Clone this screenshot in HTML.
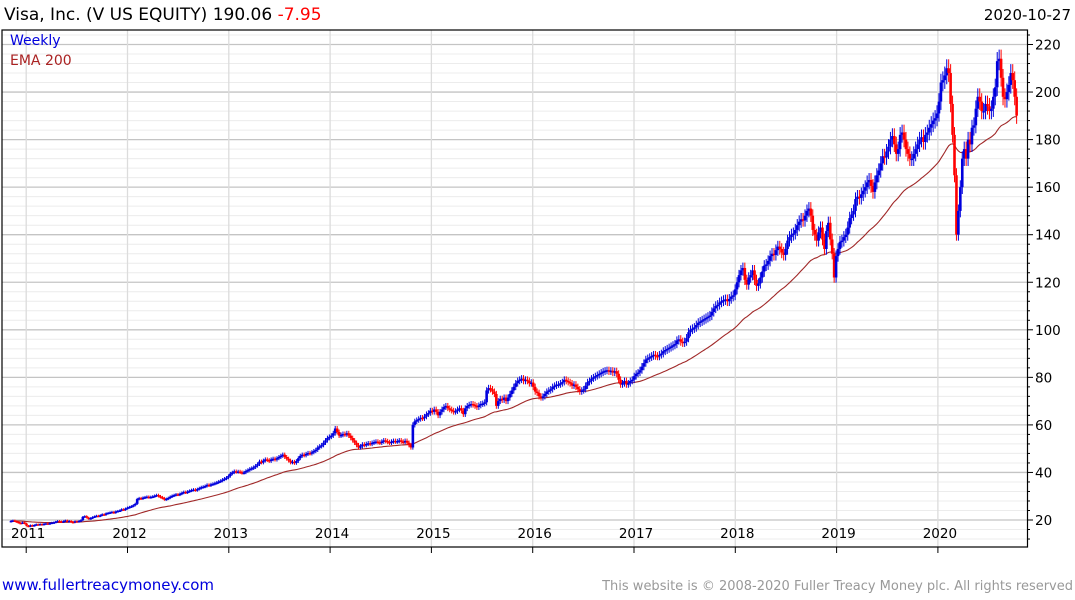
<!DOCTYPE html>
<html><head><meta charset="utf-8">
<style>
html,body{margin:0;padding:0;background:#fff;}
body{width:1075px;height:600px;overflow:hidden;font-family:"Liberation Sans","DejaVu Sans",sans-serif;}
svg{display:block;}
</style></head>
<body>
<svg id="chart" width="1075" height="600" xmlns="http://www.w3.org/2000/svg">
  <text x="4" y="20" font-size="17" font-family="DejaVu Sans, sans-serif" fill="#000">Visa, Inc. (V US EQUITY) 190.06 <tspan fill="#ff0000">-7.95</tspan></text>
  <text x="1071" y="20" font-size="15" font-family="DejaVu Sans, sans-serif" text-anchor="end" fill="#000">2020-10-27</text>
  <g id="grid"></g>
  <g id="ema"></g>
  <g id="bars"></g>
  <rect x="2" y="30" width="1025.5" height="517" fill="none" stroke="#000" stroke-width="1.2"/>
  <g id="axes"></g>
  <text x="10" y="45" font-size="14" font-family="DejaVu Sans, sans-serif" fill="#0000dd">Weekly</text>
  <text x="10" y="65" font-size="14" font-family="DejaVu Sans, sans-serif" fill="#aa2222">EMA 200</text>
  <text x="2" y="590" font-size="15" font-family="DejaVu Sans, sans-serif" fill="#0000dd">www.fullertreacymoney.com</text>
  <text x="1073" y="590" font-size="13" font-family="DejaVu Sans, sans-serif" text-anchor="end" fill="#999">This website is © 2008-2020 Fuller Treacy Money plc. All rights reserved</text>
</svg>
<script>
const startYear = 2010.85;
const yearTicks = [2011,2012,2013,2014,2015,2016,2017,2018,2019,2020];
const priceTicks = [20,40,60,80,100,120,140,160,180,200,220];
const closes2010 = [19.6,19.8,19.5,19.2,18.8,18.6,19.0,18.5,17.6];
const closes2011 = [17.3,17.8,17.5,17.9,18.2,18.0,18.3,18.1,18.4,18.6,18.3,18.7,18.9,19.0,19.3,19.6,19.4,19.2,19.5,19.8,19.4,19.6,19.2,19.0,19.5,19.4,19.6,19.9,21.3,21.6,21.0,20.5,20.8,21.2,21.5,21.8,21.6,22.0,22.4,22.2,22.8,23.0,23.2,23.4,23.0,23.6,23.8,24.0,24.5,24.3,24.8,25.2];
const closes2012 = [25.5,25.8,26.2,26.8,28.8,29.2,29.0,29.4,29.6,29.8,29.5,29.7,29.9,30.2,30.5,30.0,29.6,29.2,28.6,28.9,29.3,29.8,30.2,30.5,30.8,30.6,31.0,31.4,31.8,31.5,32.0,32.3,32.6,32.8,32.5,33.0,33.4,33.8,34.0,34.3,34.8,34.5,35.0,35.2,35.5,35.8,36.2,36.5,37.0,37.4,37.8,38.5];
const closes2013 = [39.5,40.0,40.5,40.2,40.4,40.1,39.8,40.0,40.6,41.0,41.5,41.8,42.2,42.8,43.5,44.6,44.2,45.0,45.5,45.2,44.8,45.5,45.8,45.4,46.0,46.5,47.0,47.5,46.5,45.8,45.0,44.2,44.5,44.0,44.8,46.0,47.0,47.5,47.2,47.8,48.2,48.0,48.5,49.0,49.5,50.5,51.0,51.5,52.5,53.5,54.5,55.0];
const closes2014 = [55.5,56.5,58.5,57.0,55.5,55.8,56.2,56.0,56.5,55.5,54.5,53.5,52.5,51.5,50.5,51.0,51.8,51.5,52.0,52.3,52.0,52.5,52.8,53.0,52.7,52.5,53.0,53.5,53.2,52.8,52.5,53.0,53.3,53.0,53.2,53.5,53.0,52.8,53.3,52.5,51.5,50.5,60.0,61.5,62.0,62.5,63.0,62.8,63.5,64.5,65.0,66.0];
const closes2015 = [65.5,66.5,65.5,64.0,65.5,66.5,67.5,68.0,67.0,66.5,66.0,65.5,65.8,66.5,67.0,66.0,64.5,67.0,68.0,68.5,68.8,68.5,68.0,67.5,68.2,68.8,69.0,69.5,74.5,75.5,75.0,74.0,73.0,68.0,70.0,71.0,70.5,71.5,70.0,71.5,73.0,74.5,76.0,77.5,78.5,79.0,79.5,78.5,79.0,78.5,77.5,77.8];
const closes2016 = [76.0,74.0,73.5,72.0,71.5,72.0,73.0,74.0,74.5,75.0,76.0,76.5,77.0,77.0,77.5,78.0,79.0,78.5,78.0,77.5,76.5,77.0,76.0,75.0,74.0,74.5,75.0,76.5,78.0,78.5,79.5,80.0,80.5,81.0,81.5,82.0,82.5,82.8,83.0,82.5,82.8,82.0,82.6,81.5,79.0,77.0,77.5,78.5,77.0,77.5,78.5,79.0];
const closes2017 = [80.5,81.5,82.0,83.0,84.5,86.0,87.5,88.0,88.5,89.0,89.5,89.0,88.8,89.5,90.0,91.0,91.5,92.0,92.5,93.0,93.5,94.0,95.5,96.0,95.0,94.5,95.0,96.5,99.0,100.0,100.5,101.0,102.0,103.0,103.5,104.0,104.5,105.0,105.5,106.0,107.5,109.0,110.0,110.5,111.5,112.0,112.5,112.8,112.0,113.0,114.0,114.5];
const closes2018 = [117.0,120.0,123.0,125.0,126.0,121.0,119.0,122.0,123.0,125.0,121.0,118.5,119.5,122.0,124.5,127.0,127.5,129.0,131.0,132.0,131.5,133.5,135.0,134.0,132.5,131.5,134.0,137.5,139.0,140.0,140.5,142.0,144.0,145.5,146.5,146.0,148.0,150.0,151.0,148.0,142.0,140.0,137.5,141.0,143.0,138.0,134.0,141.5,145.0,138.0,132.0,122.0];
const closes2019 = [131.0,134.0,137.0,137.5,139.0,140.0,143.0,147.0,148.5,150.0,155.0,156.0,155.5,157.0,158.5,160.0,162.0,163.0,160.5,158.0,162.0,165.0,167.0,170.0,173.0,172.5,175.0,177.0,180.0,181.5,178.0,174.0,176.0,182.0,183.0,180.0,176.0,174.0,172.0,172.0,174.0,176.0,178.0,180.0,181.0,179.0,182.0,183.0,185.0,186.5,188.0,189.0];
const closes2020 = [191.0,196.0,204.0,205.0,207.0,210.0,208.0,195.0,182.0,165.0,140.0,150.0,160.0,172.0,176.0,172.0,180.0,178.0,185.0,186.0,193.0,198.0,196.0,192.0,192.0,195.0,194.0,192.0,193.0,198.0,202.0,213.0,214.0,206.0,198.0,197.0,200.0,203.0,208.0,205.0,198.0,190.06];
const closes = [].concat(closes2010,closes2011,closes2012,closes2013,closes2014,closes2015,closes2016,closes2017,closes2018,closes2019,closes2020);

const NS = "http://www.w3.org/2000/svg";
const xOf = t => 26.2 + (t - 2011) * 101.3;
const yOf = v => 520 - (v - 20) * 2.3775;
function mk(tag, attrs, parent){ const e=document.createElementNS(NS,tag); for(const k in attrs) e.setAttribute(k,attrs[k]); parent.appendChild(e); return e; }

const grid = document.getElementById('grid');
const axes = document.getElementById('axes');
for (let v = 12; v <= 224; v += 4) {
  const y = yOf(v);
  if (y < 31 || y > 546) continue;
  const major = v % 20 === 0;
  const l = mk('line',{x1:2,x2:1027,y1:y,y2:y,stroke:major?'#c4c4c4':'#ececec','stroke-width':major?1.3:1},grid);
  
  
  const tk = mk('line',{x1:1027,x2:major?1033:1030,y1:y,y2:y,stroke:'#000','stroke-width':1},axes);
  
  
}
priceTicks.forEach(v => {
  const t = mk('text',{x:1035,y:yOf(v)+5,'font-size':13.5,'font-family':'DejaVu Sans, sans-serif',fill:'#000'},axes);
  t.textContent = v;
  
  
});
yearTicks.forEach(yr => {
  const x = xOf(yr);
  const l = mk('line',{x1:x,x2:x,y1:30,y2:547,stroke:'#dcdcdc','stroke-width':1.3},grid);
  
  
  const tk = mk('line',{x1:x,x2:x,y1:547,y2:553,stroke:'#000','stroke-width':1},axes);
  
  
  const t = mk('text',{x:x+2,y:538,'font-size':13.5,'font-family':'DejaVu Sans, sans-serif','text-anchor':'middle',fill:'#000'},axes);
  t.textContent = yr;
  
  
});

const bars = document.getElementById('bars');
const wk = 1/52.18;
for (let i = 0; i < closes.length; i++) {
  const c = closes[i], o = i ? closes[i-1] : c;
  const x = xOf(startYear + i*wk);
  const up = c >= o;
  const col = up ? '#0000dd' : '#ff0000';
  const hi = Math.max(o,c)*1.018, lo = Math.min(o,c)*0.982;
  const w = mk('line',{x1:x,x2:x,y1:yOf(hi),y2:yOf(lo),stroke:col,'stroke-width':1},bars);
  
  
  const yt = yOf(Math.max(o,c)), yb = yOf(Math.min(o,c));
  const b = mk('rect',{x:x-1.3,y:yt,width:2.6,height:Math.max(1.5,yb-yt),fill:col},bars);
  
  
}
const alpha = 2/51;
let e = closes[0], pts = [];
for (let i = 0; i < closes.length; i++) {
  e = i ? e + alpha*(closes[i]-e) : closes[0];
  pts.push(xOf(startYear + i*wk).toFixed(1)+','+yOf(e).toFixed(1));
}
const pl = mk('polyline',{points:pts.join(' '),fill:'none',stroke:'#a02828','stroke-width':1.1},document.getElementById('ema'));


</script>
</body></html>
